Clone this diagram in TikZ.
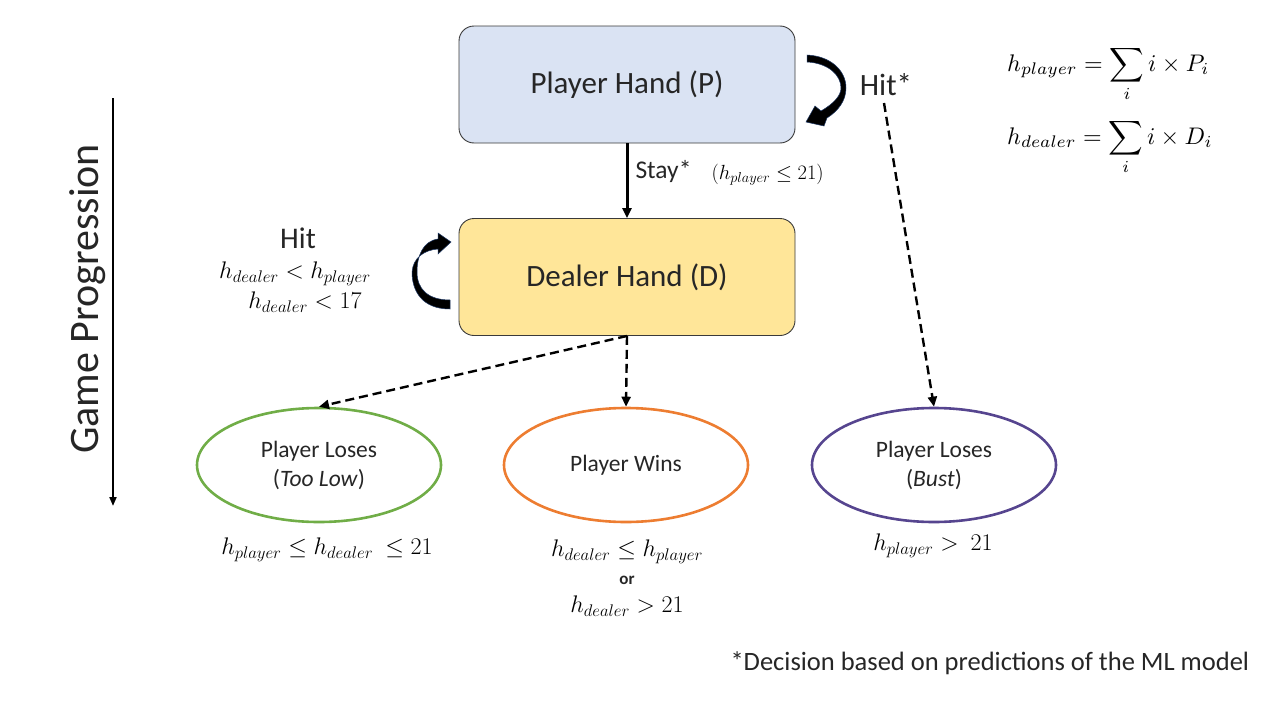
\RequirePackage{fix-cm}
\documentclass[tikz,border=0pt]{standalone}
\usepackage{graphicx}
\usepackage{fontspec}
\setmainfont{Carlito}
\usetikzlibrary{shapes.geometric,arrows.meta}
\definecolor{pblue}{HTML}{DAE3F3}
\definecolor{dyellow}{HTML}{FFE699}
\definecolor{lgreen}{HTML}{70AD47}
\definecolor{lorange}{HTML}{ED7D31}
\definecolor{lpurple}{HTML}{56458F}
\definecolor{boxline}{HTML}{3A3A3A}
\definecolor{txt}{HTML}{262626}
\definecolor{arrowedge}{HTML}{1F3864}
\begin{document}
\begin{tikzpicture}[x=1pt,y=-1pt,
  handbox/.style={draw=boxline, line width=0.9pt, rounded corners=15pt, minimum width=336pt, minimum height=117pt, font=\fontsize{31}{37}\selectfont, text=txt},
  outcome/.style={ellipse, line width=2.6pt, minimum width=244pt, minimum height=114pt, font=\fontsize{23.5}{29}\selectfont, align=center, text=txt},
  dasharrow/.style={line width=2.4pt, dash pattern=on 9pt off 5pt, -{Triangle[length=10pt,width=9pt]}},
  curvearrow/.style={fill=black, draw=arrowedge, line width=0.5pt},
  mathlabel/.style={font=\fontsize{24}{28}\selectfont, text=black},
  plainlabel/.style={text=txt}
]
\useasboundingbox (0,0) rectangle (1280,720);

% main boxes
\node[handbox, fill=pblue] (player) at (627,84.5) {Player Hand (P)};
\node[handbox, fill=dyellow] (dealer) at (627,277) {Dealer Hand (D)};

% outcomes
\node[outcome, draw=lgreen] (lose1) at (319,465) {Player Loses\\(\textit{Too Low})};
\node[outcome, draw=lorange] (win) at (626,465) {Player Wins};
\node[outcome, draw=lpurple] (lose2) at (934,465) {Player Loses\\(\textit{Bust})};

% stay arrow
\draw[line width=3pt, -{Triangle[length=10pt,width=9pt]}] (player.south) -- (dealer.north);
\node[plainlabel, anchor=west, font=\fontsize{25.5}{30}\selectfont] (stay) at (632,172) {Stay*};
\node[mathlabel, anchor=west, font=\fontsize{20.5}{24}\selectfont] (staycond) at (708,175) {$(h_{player}\le 21)$};

% player hit loop
\path[curvearrow] (807,55) .. controls (830,56) and (846,70) .. (846,88)
  .. controls (846,101) and (838,111) .. (827,118) -- (824,126) -- (806,122)
  -- (815,106) -- (821,111) .. controls (833,104) and (841,96) .. (841,88)
  .. controls (841,75) and (828,63) .. (807,62) -- cycle;
\node[plainlabel, font=\fontsize{31}{37}\selectfont] (hitstar) at (886,85) {Hit*};
\coordinate (bustfrom) at (884,103);
\draw[dasharrow] (bustfrom) -- (lose2.north);

% dealer hit loop
\path[curvearrow] (450,309) .. controls (422,309) and (412,291) .. (412,272)
  .. controls (413,258) and (424,250) .. (438,249) -- (438,254) -- (451,242)
  -- (438,233) -- (438,239) .. controls (423,241) and (417,256) .. (417,272)
  .. controls (417,289) and (428,300) .. (450,300) -- cycle;
\node[plainlabel, font=\fontsize{30}{36}\selectfont] (hitd) at (298,238) {Hit};
\node[mathlabel] (hitc1) at (295,274) {$h_{dealer}<h_{player}$};
\node[mathlabel] (hitc2) at (305,302) {$h_{dealer}<17$};

% dashed outcome arrows
\draw[dasharrow] (dealer.south) -- (lose1.north);
\draw[dasharrow] (dealer.south) -- (win.north);

% outcome conditions
\node[mathlabel] (c1) at (327,550) {$h_{player}\le h_{dealer}\ \le 21$};
\node[mathlabel] (c2a) at (627,552) {$h_{dealer}\le h_{player}$};
\node[plainlabel, font=\fontsize{17}{20}\selectfont\bfseries] (c2b) at (627,580) {or};
\node[mathlabel] (c2c) at (627,606) {$h_{dealer}>21$};
\node[mathlabel] (c3) at (933,546) {$h_{player}>\ 21$};

% formulas
\node[anchor=base west, inner sep=0pt] (f1) at (1007,71) {\scalebox{2.4}{$\displaystyle h_{player}=\sum_i i\times P_i$}};
\node[anchor=base west, inner sep=0pt] (f2) at (1007,144) {\scalebox{2.4}{$\displaystyle h_{dealer}=\sum_i i\times D_i$}};

% game progression
\node[plainlabel, rotate=90, font=\fontsize{42}{50}\selectfont] (gp) at (88,299) {Game Progression};
\coordinate (gtop) at (113,98);
\coordinate (gbot) at (113,506);
\draw[line width=2pt, -{Triangle[length=9pt,width=7pt]}] (gtop) -- (gbot);

% footnote
\node[plainlabel, anchor=west, font=\fontsize{26.5}{31}\selectfont] (foot) at (727,663) {*Decision based on predictions of the ML model};
\end{tikzpicture}
\end{document}
